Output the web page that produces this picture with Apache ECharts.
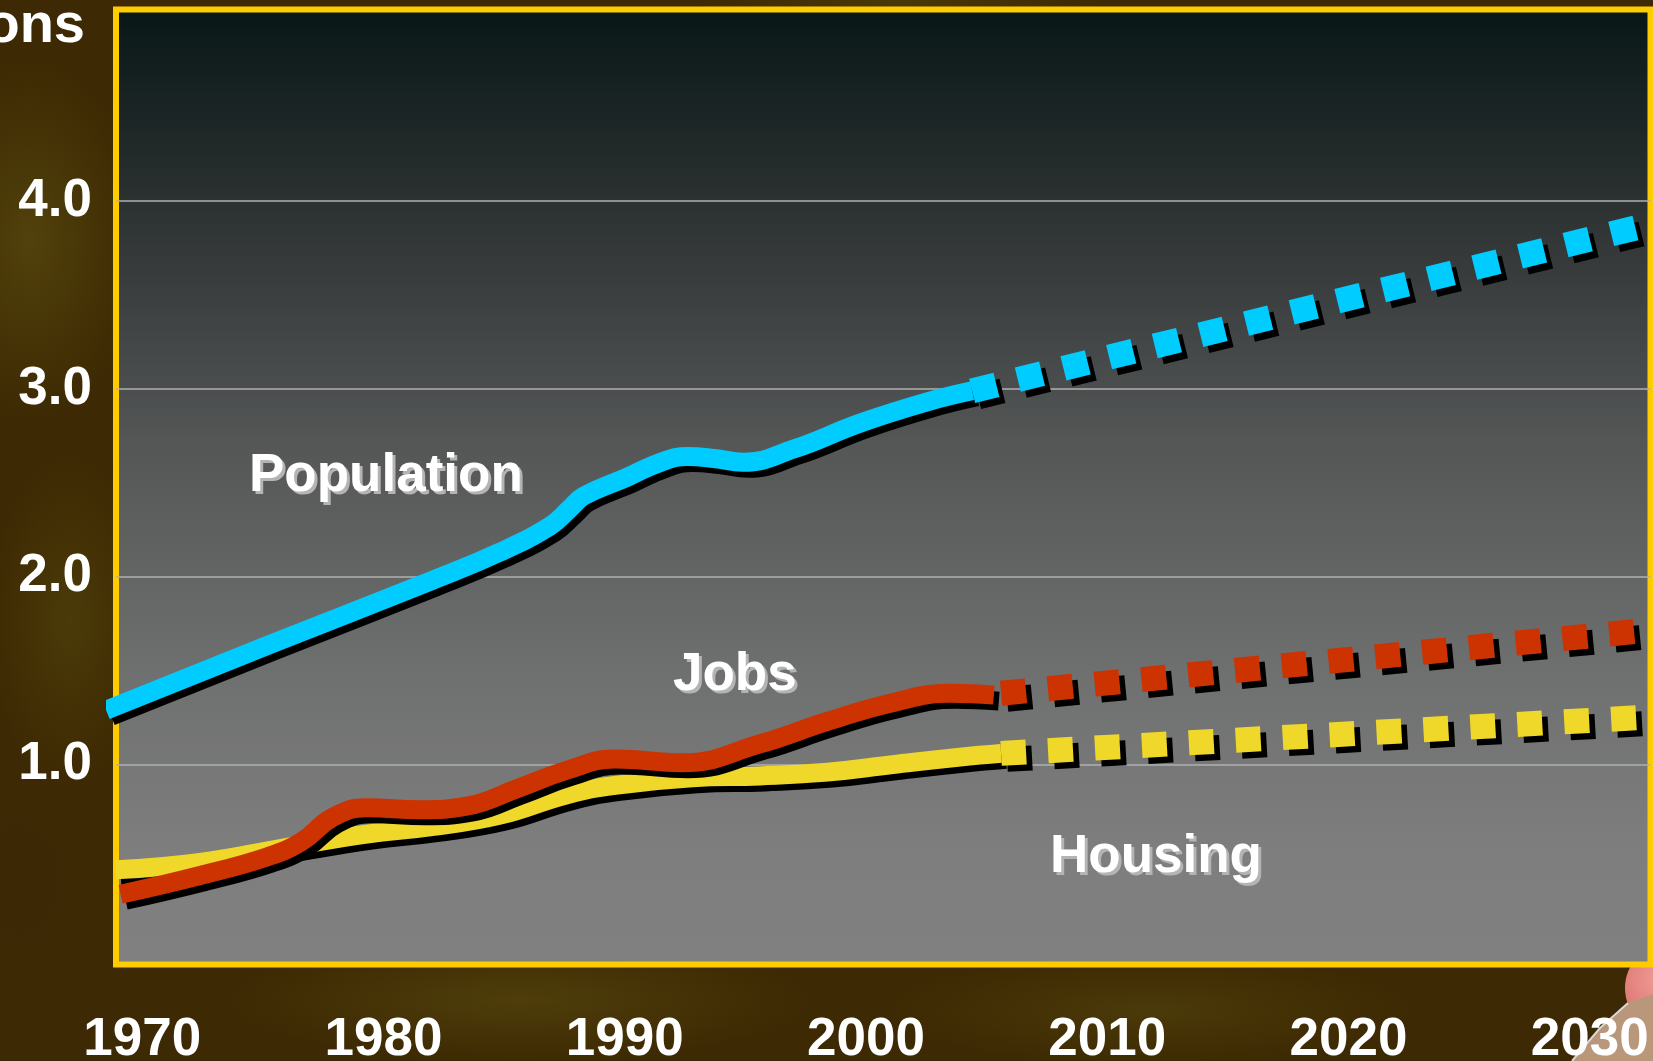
<!DOCTYPE html>
<html>
<head>
<meta charset="utf-8">
<script src="https://cdn.jsdelivr.net/npm/echarts@6/dist/echarts.min.js"></script>
<style>
html,body{margin:0;padding:0;width:1653px;height:1061px;overflow:hidden;}
body{
  background:
    radial-gradient(ellipse 160px 260px at 30px 240px, rgba(88,74,14,0.75), rgba(88,74,14,0) 70%),
    radial-gradient(ellipse 120px 240px at 70px 620px, rgba(84,70,12,0.6), rgba(84,70,12,0) 70%),
    radial-gradient(ellipse 140px 200px at 20px 880px, rgba(60,40,5,0.8), rgba(60,40,5,0) 70%),
    radial-gradient(ellipse 420px 90px at 520px 1000px, rgba(90,76,16,0.6), rgba(90,76,16,0) 70%),
    radial-gradient(ellipse 380px 80px at 1150px 1010px, rgba(86,72,14,0.55), rgba(86,72,14,0) 70%),
    radial-gradient(ellipse 300px 60px at 900px 0px, rgba(86,72,14,0.5), rgba(86,72,14,0) 70%),
    #3d2903;
}
#deco{position:absolute;left:0;top:0;width:1653px;height:1061px;}
#chart{position:absolute;left:0;top:0;width:1653px;height:1061px;}
</style>
</head>
<body>
<svg id="deco" width="1653" height="1061">
  <defs>
    <radialGradient id="pk" cx="0.4" cy="0.4" r="0.7">
      <stop offset="0" stop-color="#f29c98"/>
      <stop offset="1" stop-color="#d46a64"/>
    </radialGradient>
  </defs>
  <circle cx="1670" cy="988" r="45" fill="url(#pk)"/>
  <polygon points="1572,1061 1600,1028 1628,1003 1653,994 1653,1061" fill="#b8977a"/>
  <polyline points="1572,1061 1600,1028 1628,1003" fill="none" stroke="#d8d8d8" stroke-width="2"/>
</svg>
<div id="chart"></div>
<script>
// ---- data ----
const xTicks = [1970, 1980, 1990, 2000, 2010, 2020, 2030];
const yTicks = [1, 2, 3, 4];

const popYears  = [1968.5, 1975.3, 1982.0, 1984.8, 1986.9, 1987.7, 1988.3, 1990.1, 1991.5, 1992.6, 1993.7, 1994.9, 1997.0, 1999.8, 2002.5, 2004.4];
const popValues = [1.29,   1.64,   1.98,   2.13,   2.27,   2.36,   2.43,   2.53,   2.61,   2.64,   2.63,   2.61,   2.68,   2.82,   2.93,   2.99];
const popProjYears  = [2004.4, 2032.0];
const popProjValues = [2.99, 3.86];

const jobsYears  = [1969.1, 1972.4, 1975.2, 1976.6, 1977.9, 1979.3, 1981.5, 1983.5, 1985.5, 1987.6, 1989.6, 1992.4, 1995.6, 1998.4, 2001.1, 2003.5, 2005.3];
const jobsValues = [0.31,   0.41,   0.51,   0.59,   0.72,   0.77,   0.76,   0.78,   0.87,   0.97,   1.03,   1.01,   1.11,   1.23,   1.33,   1.38,   1.37];
const jobsProjYears  = [2005.6, 2032.0];
const jobsProjValues = [1.38, 1.71];

const houseYears  = [1968.9, 1972.4, 1976.0, 1979.3, 1982.0, 1984.8, 1987.6, 1989.6, 1992.8, 1995.6, 1998.4, 2001.1, 2003.9, 2005.6];
const houseValues = [0.44,   0.48,   0.56,   0.63,   0.67,   0.73,   0.84,   0.89,   0.93,   0.94,   0.96,   1.00,   1.04,   1.06];
const houseProjYears  = [2005.6, 2032.0];
const houseProjValues = [1.06, 1.25];

const seriesNames = ['Population', 'Jobs', 'Housing'];
const yAxisName = 'Millions';

// ---- build ----
const zip = (xs, ys) => xs.map((x, i) => [x, ys[i]]);
const FONT = "'Liberation Sans', Arial, Helvetica, sans-serif";
const BLUE = '#00CCFF', RED = '#CC3300', YELLOW = '#F0D82A';

function solid(name, xs, ys, color) {
  return {
    type: 'line', name, data: zip(xs, ys), smooth: 0.45, symbol: 'none', clip: false,
    silent: true,
    lineStyle: { color, width: 19, cap: 'butt', join: 'round',
      shadowColor: '#000', shadowBlur: 0, shadowOffsetX: 5, shadowOffsetY: 6 }
  };
}
function dotted(name, xs, ys, color) {
  return {
    type: 'line', name, data: zip(xs, ys), smooth: false, symbol: 'none', clip: false,
    silent: true,
    lineStyle: { color, width: 25, type: [25, 22], cap: 'butt',
      shadowColor: '#000', shadowBlur: 0, shadowOffsetX: 6, shadowOffsetY: 6 }
  };
}

const labelText = {
  color: '#ffffff', fontSize: 53, fontWeight: 'bold', fontFamily: FONT,
  textShadowColor: '#b4b4b4', textShadowBlur: 0.5, textShadowOffsetX: 3, textShadowOffsetY: 3
};

const chart = echarts.init(document.getElementById('chart'), null, { renderer: 'canvas' });
chart.setOption({
  backgroundColor: 'transparent',
  animation: false,
  title: [
    { text: seriesNames[0], left: 244, top: 445, padding: 5, textStyle: labelText },
    { text: seriesNames[1], left: 668, top: 644, padding: 5, textStyle: labelText },
    { text: seriesNames[2], left: 1045, top: 826, padding: 5, textStyle: labelText }
  ],
  graphic: [
    { type: 'text', x: 85, y: 27, silent: true,
      style: { text: yAxisName, fill: '#ffffff', font: "bold 56px " + FONT, align: 'right', verticalAlign: 'middle' } }
  ],
  grid: {
    left: 116, right: 2.5, top: 9.5, bottom: 96.5, show: true,
    containLabel: false, outerBoundsMode: 'none',
    borderColor: '#FFCC00', borderWidth: 6,
    backgroundColor: {
      type: 'linear', x: 0, y: 0, x2: 0, y2: 1,
      colorStops: [
        { offset: 0, color: '#071716' },
        { offset: 0.2, color: '#2b3030' },
        { offset: 0.45, color: '#545656' },
        { offset: 0.7, color: '#6f7070' },
        { offset: 0.88, color: '#7e7e7e' },
        { offset: 1, color: '#808080' }
      ]
    }
  },
  xAxis: {
    type: 'value', min: 1968.91, max: 2032.52,
    axisLine: { show: false }, axisTick: { show: false }, splitLine: { show: false },
    axisLabel: {
      customValues: xTicks, margin: 49, color: '#ffffff', fontSize: 53, fontWeight: 'bold', fontFamily: FONT,
      formatter: v => String(Math.round(v))
    }
  },
  yAxis: {
    type: 'value', min: -0.064, max: 5.02,
    axisLine: { show: false },
    axisTick: { show: false, customValues: yTicks },
    splitLine: { show: true, lineStyle: { color: '#b0b0b0', width: 1.5 } },
    axisLabel: {
      customValues: yTicks, margin: 24, color: '#ffffff', fontSize: 53, fontWeight: 'bold', fontFamily: FONT,
      padding: [8, 0, 0, 0],
      formatter: v => v.toFixed(1)
    }
  },
  series: [
    solid('Housing', houseYears, houseValues, YELLOW),
    dotted('Housing (projected)', houseProjYears, houseProjValues, YELLOW),
    solid('Jobs', jobsYears, jobsValues, RED),
    dotted('Jobs (projected)', jobsProjYears, jobsProjValues, RED),
    solid('Population', popYears, popValues, BLUE),
    dotted('Population (projected)', popProjYears, popProjValues, BLUE)
  ]
});
</script>
</body>
</html>
